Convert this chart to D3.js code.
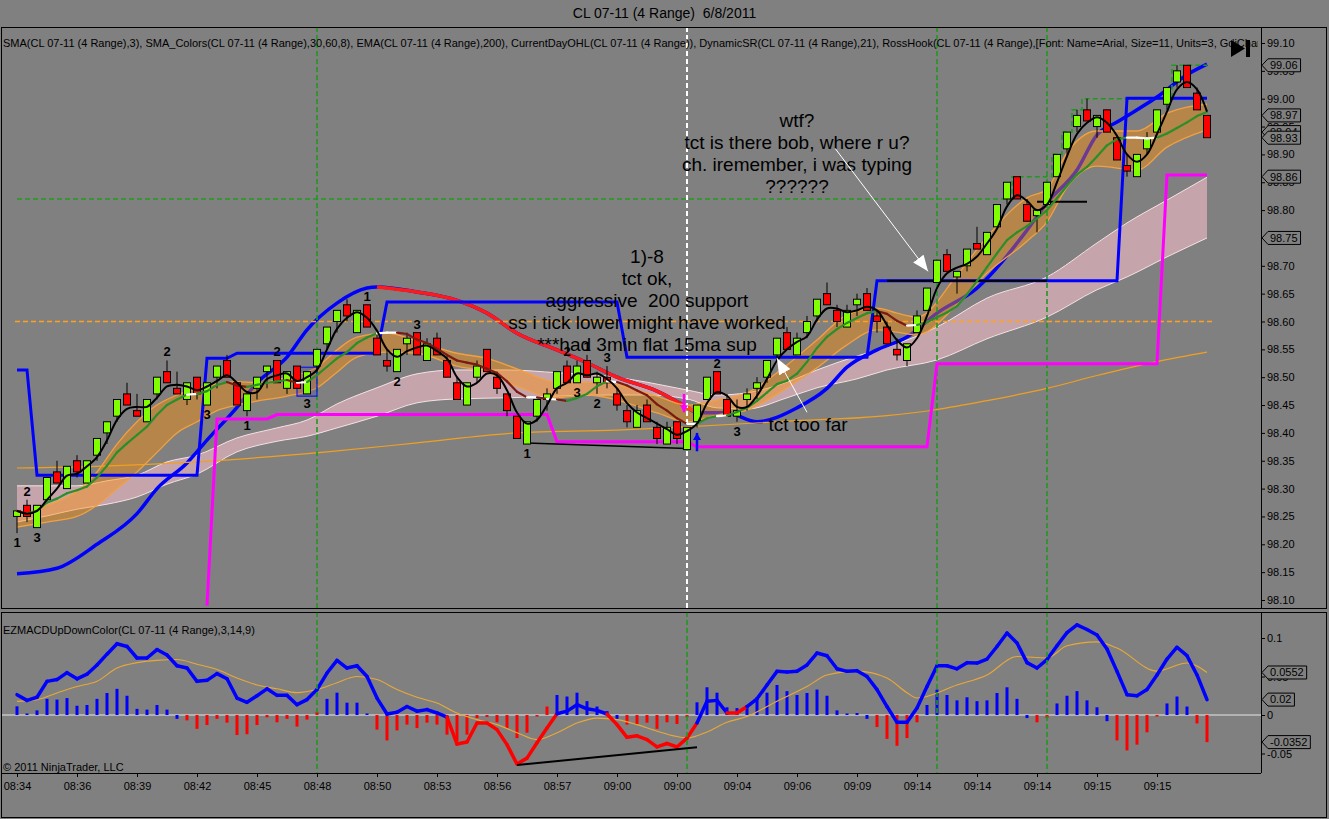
<!DOCTYPE html>
<html>
<head>
<meta charset="utf-8">
<title>CL 07-11 (4 Range) 6/8/2011</title>
<script src="https://cdn.jsdelivr.net/npm/d3@7"></script>
<style>
  html, body { margin: 0; padding: 0; background: #808080; }
  svg { display: block; font-family: "Liberation Sans", Arial, sans-serif; }
</style>
</head>
<body>
<div id="chart"></div>
<script>
// ---- 4 tick range bars ----
const opens = [
  98.25,98.27,98.23,98.28,98.33,98.30,98.35,98.31,98.36,98.40,
  98.43,98.47,98.44,98.42,98.47,98.51,98.48,98.46,98.50,98.45,
  98.50,98.53,98.49,98.44,98.48,98.51,98.53,98.48,98.52,98.47,
  98.52,98.56,98.60,98.63,98.58,98.63,98.57,98.53,98.51,98.56,
  98.58,98.53,98.57,98.53,98.49,98.45,98.50,98.55,98.50,98.47,
  98.43,98.38,98.43,98.46,98.48,98.52,98.49,98.53,98.49,98.50,
  98.47,98.44,98.41,98.45,98.41,98.38,98.42,98.37,98.42,98.46,
  98.51,98.46,98.43,98.46,98.48,98.50,98.54,98.58,98.54,98.58,
  98.61,98.65,98.62,98.59,98.63,98.65,98.61,98.59,98.55,98.53,
  98.58,98.62,98.67,98.72,98.68,98.70,98.74,98.72,98.77,98.82,
  98.86,98.81,98.79,98.81,98.86,98.91,98.95,98.98,98.95,98.98,
  98.93,98.88,98.86,98.91,98.94,98.99,99.03,99.06,99.01,98.97];
const highs = [
  98.26,98.28,98.27,98.32,98.35,98.34,98.36,98.35,98.39,98.42,
  98.46,98.49,98.47,98.46,98.50,98.53,98.51,98.49,98.50,98.49,
  98.52,98.54,98.49,98.47,98.50,98.52,98.53,98.51,98.52,98.51,
  98.55,98.59,98.62,98.64,98.62,98.63,98.58,98.55,98.55,98.58,
  98.58,98.57,98.58,98.54,98.50,98.49,98.53,98.55,98.51,98.47,
  98.43,98.42,98.46,98.48,98.51,98.53,98.53,98.54,98.51,98.52,
  98.48,98.45,98.45,98.46,98.42,98.42,98.42,98.41,98.45,98.50,
  98.51,98.47,98.46,98.48,98.50,98.53,98.57,98.59,98.58,98.61,
  98.64,98.67,98.63,98.63,98.65,98.66,98.62,98.60,98.57,98.56,
  98.62,98.66,98.71,98.73,98.69,98.73,98.77,98.76,98.81,98.85,
  98.86,98.82,98.80,98.85,98.90,98.94,98.98,99.00,98.97,98.98,
  98.93,98.90,98.90,98.94,98.98,99.02,99.06,99.06,99.02,98.97];
const lows = [
  98.22,98.24,98.23,98.28,98.31,98.30,98.32,98.31,98.35,98.38,
  98.42,98.45,98.43,98.42,98.46,98.49,98.47,98.45,98.46,98.45,
  98.48,98.50,98.45,98.43,98.46,98.48,98.49,98.47,98.48,98.47,
  98.51,98.55,98.58,98.60,98.58,98.59,98.54,98.51,98.51,98.54,
  98.54,98.53,98.54,98.50,98.46,98.45,98.49,98.51,98.47,98.43,
  98.39,98.38,98.42,98.44,98.47,98.49,98.49,98.50,98.47,98.48,
  98.44,98.41,98.41,98.42,98.38,98.38,98.38,98.37,98.41,98.46,
  98.47,98.43,98.42,98.44,98.46,98.49,98.53,98.55,98.54,98.57,
  98.60,98.63,98.59,98.59,98.61,98.62,98.58,98.56,98.53,98.52,
  98.58,98.62,98.67,98.69,98.65,98.69,98.73,98.72,98.77,98.81,
  98.82,98.78,98.76,98.81,98.86,98.90,98.94,98.96,98.93,98.94,
  98.89,98.86,98.86,98.90,98.94,98.98,99.02,99.02,98.98,98.93];
const closes = [
  98.26,98.25,98.27,98.32,98.31,98.34,98.33,98.35,98.39,98.42,
  98.46,98.45,98.43,98.46,98.50,98.49,98.47,98.49,98.47,98.49,
  98.52,98.50,98.45,98.47,98.50,98.52,98.49,98.51,98.48,98.51,
  98.55,98.59,98.62,98.61,98.62,98.59,98.54,98.52,98.55,98.57,
  98.54,98.56,98.54,98.50,98.46,98.49,98.52,98.51,98.48,98.44,
  98.39,98.42,98.46,98.47,98.51,98.49,98.52,98.50,98.50,98.49,
  98.45,98.42,98.44,98.42,98.39,98.41,98.39,98.41,98.45,98.50,
  98.47,98.43,98.44,98.47,98.49,98.53,98.57,98.55,98.57,98.60,
  98.64,98.63,98.60,98.62,98.64,98.62,98.60,98.56,98.54,98.56,
  98.61,98.66,98.71,98.69,98.69,98.73,98.73,98.76,98.81,98.85,
  98.82,98.78,98.80,98.85,98.90,98.94,98.97,98.96,98.97,98.94,
  98.89,98.87,98.90,98.93,98.98,99.02,99.05,99.02,98.98,98.93];

// x axis
const timeBars = [1,7,13,19,25,31,37,43,49,55,61,67,73,79,85,91,97,103,109,115];
const timeLabels = ["08:34","08:36","08:39","08:42","08:45","08:48","08:50","08:53","08:56","08:57",
                    "09:00","09:00","09:04","09:06","09:09","09:14","09:14","09:14","09:15","09:15"];

// indicator lines, [bar, value] or [bar, upper, lower]
const slowLine = [[1,98.147],[5,98.157],[9,98.20],[13,98.255],[15,98.30],[18,98.346],[20,98.387],[23,98.446],
  [25,98.49],[28,98.536],[30,98.585],[33,98.633],[36,98.66],[37,98.662],[41,98.653],[45,98.638],[48,98.615],
  [51,98.579],[55,98.549],[58,98.526],[61,98.50],[65,98.475],[68,98.446],[69,98.436],[72,98.436],[75,98.42],
  [79,98.445],[82,98.48],[84,98.518],[87,98.549],[90,98.572],[93,98.615],[97,98.66],[102,98.764],[104,98.813],
  [107,98.872],[109,98.935],[111,98.958],[115,99.003],[118,99.043],[120,99.062]];
const slowFalling = [37, 69];
const orangeBand = [[1,98.253,98.231],[4,98.27,98.24],[7,98.295,98.25],[9,98.33,98.27],[11,98.38,98.30],
  [13,98.42,98.33],[15,98.45,98.365],[17,98.468,98.40],[19,98.48,98.42],[21,98.488,98.44],[23,98.492,98.45],
  [25,98.49,98.457],[28,98.50,98.466],[31,98.518,98.481],[33,98.549,98.509],[35,98.572,98.536],[38,98.579,98.545],
  [41,98.565,98.543],[45,98.543,98.52],[48,98.534,98.509],[51,98.515,98.484],[55,98.491,98.463],[58,98.491,98.468],
  [61,98.486,98.459],[65,98.466,98.436],[68,98.45,98.42],[71,98.459,98.432],[74,98.472,98.441],[78,98.522,98.481],
  [81,98.567,98.517],[84,98.612,98.558],[87,98.624,98.585],[89,98.615,98.581],[91,98.608,98.576],[95,98.683,98.63],
  [98,98.752,98.687],[102,98.822,98.744],[104,98.838,98.779],[106,98.903,98.841],[109,98.942,98.879],
  [113,98.942,98.872],[116,98.974,98.913],[120,98.99,98.944]];
const pinkBand = [[1,98.305,98.24],[4,98.305,98.251],[7,98.305,98.263],[10,98.314,98.272],[13,98.324,98.285],
  [16,98.348,98.308],[19,98.36,98.326],[23,98.391,98.366],[27,98.409,98.385],[30,98.423,98.394],[33,98.452,98.409],
  [37,98.481,98.43],[41,98.506,98.454],[45,98.513,98.461],[50,98.513,98.463],[55,98.508,98.466],[60,98.502,98.468],
  [64,98.491,98.468],[68,98.477,98.461],[71,98.468,98.445],[74,98.472,98.443],[78,98.491,98.463],[81,98.513,98.481],
  [85,98.538,98.497],[88,98.554,98.513],[93,98.59,98.531],[98,98.642,98.569],[104,98.68,98.608],[109,98.741,98.657],
  [112,98.777,98.68],[116,98.818,98.716],[120,98.859,98.75]];
const ema200 = [[1,98.337],[9,98.34],[19,98.348],[32,98.366],[41,98.382],[51,98.40],[61,98.405],[67,98.41],
  [78,98.421],[88,98.431],[93,98.442],[98,98.458],[104,98.48],[109,98.503],[115,98.528],[120,98.545]];

// DynamicSR steps and current day OHL
const resistance = [[1,98.513],[2,98.513],[3,98.324],[19,98.324],[20,98.534],[22,98.534],[23,98.543],[37,98.543],
  [38,98.635],[61,98.635],[62,98.536],[86,98.536],[87,98.673],[111,98.673],[112,99.001],[120,99.001]];
const support = [[20,98.09],[21,98.425],[26,98.425],[27,98.433],[54,98.433],[55,98.384],[68,98.384],[69,98.375],
  [92,98.375],[93,98.524],[115,98.524],[116,98.863],[120,98.863]];
const dayHigh = [[1,98.82],[100,98.82],[101,98.86],[104,98.86],[105,98.90],[106,98.94],[107,98.98],[108,99.00],
  [116,99.00],[117,99.06],[120,99.06]];
const dayOpen = 98.60;

// RossHook marks and hand drawn lines
const hookLabels = [[1,"1","b"],[2,"2","a"],[3,"3","b"],[16,"2","a"],[20,"3","b"],[24,"1","b"],[27,"2","a"],
  [30,"3","b"],[36,"1","a"],[39,"2","b"],[41,"3","a"],[52,"1","b"],[56,"2","a"],[57,"3","b"],[58,"1","a"],
  [59,"2","b"],[60,"3","a"],[71,"2","a"],[73,"3","b"]];
const hookBox = [29, 31, 98.518, 98.466];
const hookLines = [[[88,98.673],[104,98.673]], [[103,98.815],[108,98.815]]];
const trendMain = [[52,98.382],[68,98.372]];
const sessionBars = [31, 93, 104];
const breakBar = 68;
const entryArrows = [[67.7, 98.47, 98.437, "#ff00ff"], [69, 98.367, 98.40, "#0000ff"]];

const noteA = ["1)-8", "tct ok,", "aggressive  200 support", "ss i tick lower might have worked", "***had 3min flat 15ma sup"];
const noteB = ["wtf?", "tct is there bob, where r u?", "ch. iremember, i was typing", "??????"];
const noteC = ["tct too far"];
const noteAt = [[64, 98.705], [79, 98.949], [80.1, 98.403]];
const arrows = [[[82.8,98.911],[92.1,98.69]], [[80,98.437],[77,98.534]]];

const priceTags = [99.06, 98.97, 98.94, 98.93, 98.86, 98.75];

// ---- EZMACD panel ----
const macdLine = [
  0.0264,0.019,0.023,0.0437,0.046,0.055,0.047,0.053,0.065,0.079,
  0.0926,0.089,0.074,0.074,0.085,0.078,0.064,0.061,0.0437,0.045,
  0.0537,0.047,0.022,0.0165,0.025,0.034,0.0255,0.0255,0.0134,0.020,
  0.033,0.0545,0.071,0.061,0.064,0.050,0.022,0.0013,0.0035,0.011,
  0.005,0.007,0.0026,-0.0026,-0.0377,-0.035,-0.0104,-0.0104,-0.019,-0.0385,
  -0.0636,-0.056,-0.036,-0.017,0.0017,0.005,0.0134,0.008,0.006,0.0013,
  -0.0125,-0.029,-0.027,-0.032,-0.0415,-0.037,-0.0415,-0.030,-0.0104,0.018,
  0.019,0.0026,0.0026,0.011,0.021,0.039,0.0567,0.056,0.0567,0.065,
  0.0805,0.077,0.060,0.0567,0.0576,0.050,0.033,0.011,-0.0095,-0.0095,
  0.009,0.037,0.064,0.064,0.060,0.068,0.0675,0.0727,0.089,0.1065,
  0.0935,0.068,0.061,0.072,0.090,0.107,0.117,0.111,0.104,0.0857,
  0.0567,0.0264,0.025,0.033,0.052,0.0727,0.088,0.077,0.052,0.020];
const macdHist = [
  0.0113,0.002,0.006,0.021,0.020,0.022,0.012,0.013,0.021,0.0286,
  0.034,0.025,0.008,0.007,0.013,0.007,-0.005,-0.007,-0.018,-0.013,
  -0.005,-0.010,-0.026,-0.025,-0.013,-0.003,-0.0095,-0.005,-0.015,-0.006,
  0.004,0.021,0.029,0.016,0.016,0.002,-0.019,-0.033,-0.020,-0.0125,
  -0.017,-0.010,-0.0125,-0.0255,-0.034,-0.0255,-0.004,-0.0026,-0.0095,-0.017,
  -0.030,-0.023,-0.002,0.011,0.026,0.024,0.029,0.018,0.011,0.005,
  -0.005,-0.0125,-0.0125,-0.010,-0.018,-0.0095,-0.0117,-0.003,0.0165,0.036,
  0.029,0.010,0.009,0.013,0.023,0.029,0.039,0.031,0.026,0.0286,
  0.033,0.025,0.006,0.002,0.0026,-0.005,-0.0156,-0.031,-0.040,-0.030,
  -0.0095,0.013,0.033,0.026,0.019,0.023,0.018,0.019,0.0286,0.036,
  0.021,-0.004,-0.0095,-0.004,0.015,0.025,0.031,0.019,0.010,-0.008,
  -0.033,-0.046,-0.0385,-0.0225,-0.002,0.015,0.024,0.011,-0.011,-0.0352];
// 1 = up colour, 0 = down colour
const histUp = "11111111111111111" + "00000000000000" + "11111" + "000000000000000000" + "1111111" +
  "0000000" + "111111111111111111" + "00000" + "11111111111" + "00" + "111111" + "00000" + "111" + "00";
const macdDown = [[44,55],[60,69],[72,74]];
const signal = [[1,0.0177],[3,0.020],[5,0.0286],[7,0.037],[9,0.0437],[11,0.061],[13,0.068],[15,0.071],[17,0.072],
  [19,0.066],[21,0.059],[23,0.048],[25,0.039],[27,0.034],[29,0.029],[31,0.033],[33,0.042],[35,0.050],[37,0.046],
  [39,0.033],[41,0.023],[43,0.0156],[45,0.0026],[47,-0.006],[49,-0.0125],[51,-0.023],[53,-0.032],[55,-0.023],
  [57,-0.0104],[59,-0.004],[61,-0.006],[63,-0.0125],[65,-0.021],[67,-0.028],[68,-0.030],[70,-0.022],[72,-0.0095],
  [74,-0.002],[77,0.018],[80,0.037],[82,0.052],[85,0.057],[88,0.048],[90,0.029],[91,0.022],[95,0.039],[98,0.052],
  [101,0.076],[104,0.074],[106,0.09],[109,0.095],[111,0.087],[115,0.057],[118,0.0675],[120,0.0552]];
const trendMacd = [[51,-0.065],[69,-0.042]];
const macdTags = [0.0552, 0.02, -0.0352];

// ---- layout ----
const W = 1329, H = 819, bg = "#808080";
const P = {l: 2, r: 1261, t: 27, b: 608, mt: 612, mb: 773};

const x = d3.scaleLinear().domain([1, 120]).range([17, 1207]);
const y = d3.scaleLinear().domain([98.10, 99.10]).range([600, 43]);
const ym = d3.scaleLinear().domain([-0.05, 0.10]).range([753.5, 638]);

const svg = d3.select("#chart").append("svg").attr("width", W).attr("height", H);
svg.append("rect").attr("width", W).attr("height", H).attr("fill", bg);

const defs = svg.append("defs");
defs.append("clipPath").attr("id", "clipMain").append("rect")
  .attr("x", P.l).attr("y", P.t).attr("width", P.r - P.l).attr("height", P.b - P.t);
defs.append("clipPath").attr("id", "clipMacd").append("rect")
  .attr("x", P.l).attr("y", P.mt).attr("width", P.r - P.l).attr("height", P.mb - P.mt);
defs.append("clipPath").attr("id", "clipLegend").append("rect")
  .attr("x", 0).attr("y", P.t).attr("width", 1258).attr("height", 30);
defs.append("marker").attr("id", "head").attr("markerUnits", "userSpaceOnUse")
  .attr("markerWidth", 17).attr("markerHeight", 13).attr("refX", 16).attr("refY", 6.5).attr("orient", "auto")
  .append("path").attr("d", "M0,0 L16,6.5 L0,13 Z").attr("fill", "#fff");
entryArrows.forEach((a, i) => defs.append("marker").attr("id", "tip" + i).attr("markerUnits", "userSpaceOnUse")
  .attr("markerWidth", 8).attr("markerHeight", 8).attr("refX", 7).attr("refY", 4).attr("orient", "auto")
  .append("path").attr("d", "M0,0 L7,4 L0,8 Z").attr("fill", a[3]));

// title
svg.append("text").attr("x", W / 2).attr("y", 18).attr("text-anchor", "middle").style("white-space", "pre")
  .attr("font-size", 14).attr("fill", "#000").text("CL 07-11 (4 Range)  6/8/2011");

const g = svg.append("g").attr("clip-path", "url(#clipMain)");

const area = d3.area().x(d => x(d[0])).y0(d => y(d[2])).y1(d => y(d[1])).curve(d3.curveMonotoneX);
const edge = k => d3.line().x(d => x(d[0])).y(d => y(d[k])).curve(d3.curveMonotoneX);
const lin = d3.line().x(d => x(d[0])).y(d => y(d[1]));

// pink SMA band
g.append("path").datum(pinkBand).attr("d", area).attr("fill", "#c6a4ac");
[1, 2].forEach(k => g.append("path").datum(pinkBand).attr("d", edge(k))
  .attr("fill", "none").attr("stroke", "#f4e2e4").attr("stroke-width", 1));

// slow trend line, blue rising / red falling
g.append("path").datum(slowLine).attr("d", edge(1))
  .attr("fill", "none").attr("stroke", "#0000ff").attr("stroke-width", 3.5);
g.append("path").datum(slowLine.filter(d => d[0] >= slowFalling[0] && d[0] <= slowFalling[1])).attr("d", edge(1))
  .attr("fill", "none").attr("stroke", "#ff1a1a").attr("stroke-width", 3.5);

// orange band sits over the slow line (that gives the purple look)
g.append("path").datum(orangeBand).attr("d", area).attr("fill", "rgba(255,140,0,0.42)");
[1, 2].forEach(k => g.append("path").datum(orangeBand).attr("d", edge(k))
  .attr("fill", "none").attr("stroke", "#f2a040").attr("stroke-width", 1.3));

// EMA 200
g.append("path").datum(ema200).attr("d", edge(1))
  .attr("fill", "none").attr("stroke", "#f0a020").attr("stroke-width", 1.2);

// day open / day high
g.append("line").attr("x1", 15).attr("x2", 1212).attr("y1", y(dayOpen)).attr("y2", y(dayOpen))
  .attr("stroke", "#ffa020").attr("stroke-width", 1.6).attr("stroke-dasharray", "5,3");
g.append("path").datum(dayHigh).attr("d", d3.line().x(d => x(d[0])).y(d => y(d[1])).curve(d3.curveStep))
  .attr("fill", "none").attr("stroke", "#1f9a1f").attr("stroke-width", 1.6).attr("stroke-dasharray", "5,3");

// vertical markers
g.selectAll(".sess").data(sessionBars).join("line")
  .attr("x1", d => x(d)).attr("x2", d => x(d)).attr("y1", P.t).attr("y2", P.b)
  .attr("stroke", "#1f9a1f").attr("stroke-width", 1.6).attr("stroke-dasharray", "5,3");
g.append("line").attr("x1", x(breakBar)).attr("x2", x(breakBar)).attr("y1", P.t).attr("y2", P.b)
  .attr("stroke", "#ffffff").attr("stroke-width", 2).attr("stroke-dasharray", "5,3");

// DynamicSR
g.append("path").datum(support).attr("d", lin)
  .attr("fill", "none").attr("stroke", "#ff00ff").attr("stroke-width", 3);
g.append("path").datum(resistance).attr("d", lin)
  .attr("fill", "none").attr("stroke", "#0000ff").attr("stroke-width", 3);

// RossHook lines and box
hookLines.forEach(l => g.append("path").datum(l).attr("d", lin)
  .attr("stroke", "#000").attr("stroke-width", 2));
g.append("path").datum(trendMain).attr("d", lin).attr("stroke", "#000").attr("stroke-width", 1.5);
g.append("rect").attr("x", x(hookBox[0])).attr("y", y(hookBox[2]))
  .attr("width", x(hookBox[1]) - x(hookBox[0])).attr("height", y(hookBox[3]) - y(hookBox[2]))
  .attr("fill", "rgba(0,0,255,0.12)").attr("stroke", "#0000ff").attr("stroke-width", 1);

// candles
const idx = d3.range(opens.length);
const candle = g.selectAll(".bar").data(idx).join("g");
candle.append("line")
  .attr("x1", i => x(i + 1)).attr("x2", i => x(i + 1))
  .attr("y1", i => y(highs[i])).attr("y2", i => y(lows[i]))
  .attr("stroke", "#000").attr("stroke-width", 1);
candle.append("rect")
  .attr("x", i => x(i + 1) - 3.5).attr("width", 7)
  .attr("y", i => y(Math.max(opens[i], closes[i])))
  .attr("height", i => Math.max(1.5, Math.abs(y(opens[i]) - y(closes[i]))))
  .attr("fill", i => closes[i] >= opens[i] ? "#80ff00" : "#ff0000")
  .attr("stroke", "#000").attr("stroke-width", 1);

// entry arrows at the break
entryArrows.forEach((a, i) => g.append("line")
  .attr("x1", x(a[0])).attr("x2", x(a[0])).attr("y1", y(a[1])).attr("y2", y(a[2]))
  .attr("stroke", a[3]).attr("stroke-width", 2.5).attr("marker-end", `url(#tip${i})`));

// SMA(8) coloured by slope, SMA(3) black
const sma = (arr, n) => arr.map((v, i) => d3.mean(arr.slice(Math.max(0, i - n + 1), i + 1)));
const sma8 = sma(closes, 8).map((v, i) => [i + 1, v]);
const sma3 = sma(closes, 3).map((v, i) => [i + 1, v]);
g.selectAll(".sma8").data(d3.pairs(sma8)).join("line")
  .attr("x1", d => x(d[0][0])).attr("y1", d => y(d[0][1]))
  .attr("x2", d => x(d[1][0])).attr("y2", d => y(d[1][1]))
  .attr("stroke", d => {
    const dv = d[1][1] - d[0][1];
    return dv > 0.002 ? "#2a8f2a" : dv < -0.002 ? "#7a1a12" : "#ffffff";
  })
  .attr("stroke-width", 2.2).attr("stroke-linecap", "round");
g.append("path").datum(sma3).attr("d", d3.line().x(d => x(d[0])).y(d => y(d[1])).curve(d3.curveCatmullRom))
  .attr("fill", "none").attr("stroke", "#000").attr("stroke-width", 2);

// hook numbers
g.selectAll(".hk").data(hookLabels).join("text")
  .attr("x", d => x(d[0])).attr("text-anchor", "middle")
  .attr("y", d => d[2] === "a" ? y(highs[d[0] - 1]) - 4 : y(lows[d[0] - 1]) + 14)
  .attr("font-size", 13).attr("font-weight", "bold").attr("fill", "#000").text(d => d[1]);

// notes
[noteA, noteB, noteC].forEach((lines, k) => {
  const t = svg.append("text").attr("x", x(noteAt[k][0])).attr("y", y(noteAt[k][1]))
    .attr("text-anchor", "middle").attr("font-size", 19).attr("fill", "#000").style("white-space", "pre");
  lines.forEach((s, j) => t.append("tspan").attr("x", x(noteAt[k][0])).attr("dy", j ? 22 : 0).text(s));
});
arrows.forEach(a => svg.append("path").datum(a).attr("d", lin)
  .attr("stroke", "#fff").attr("stroke-width", 1).attr("marker-end", "url(#head)"));

// legend + play icon
svg.append("text").attr("clip-path", "url(#clipLegend)").attr("x", 3).attr("y", 47)
  .attr("font-size", 11).attr("fill", "#000")
  .text("SMA(CL 07-11 (4 Range),3), SMA_Colors(CL 07-11 (4 Range),30,60,8), EMA(CL 07-11 (4 Range),200), CurrentDayOHL(CL 07-11 (4 Range)), DynamicSR(CL 07-11 (4 Range),21), RossHook(CL 07-11 (4 Range),[Font: Name=Arial, Size=11, Units=3, GdiCharSet=1, GdiVerticalFont=False])");
svg.append("path").attr("d", "M1231,40 L1245,48.5 L1231,57 Z").attr("fill", "#000");
svg.append("rect").attr("x", 1246).attr("y", 40).attr("width", 4).attr("height", 17).attr("fill", "#000");

// price axis
const ya = svg.append("g").attr("transform", `translate(${P.r},0)`)
  .call(d3.axisRight(y).tickValues(y.ticks(20)).tickSize(4).tickSizeOuter(0).tickFormat(d3.format(".2f")));
ya.select(".domain").remove();
ya.selectAll("text").attr("font-size", 11).attr("font-family", "Liberation Sans, Arial, sans-serif").attr("fill", "#000").attr("x", 6);
ya.selectAll("line").attr("stroke", "#000");

function tag(yy, label) {
  const t = svg.append("g");
  const txt = t.append("text").attr("x", 1270).attr("y", yy).attr("dy", "0.35em")
    .attr("font-size", 11).attr("fill", "#000").text(label);
  const w = txt.node().getComputedTextLength() + 5;
  t.insert("path", "text")
    .attr("d", `M${P.r + 1},${yy} L1268,${yy - 6.5} H${1268 + w} V${yy + 6.5} H1268 Z`)
    .attr("fill", bg).attr("stroke", "#000").attr("stroke-width", 1);
}
priceTags.forEach(v => tag(y(v), v.toFixed(2)));

// ---- MACD panel ----
const m = svg.append("g").attr("clip-path", "url(#clipMacd)");
m.append("line").attr("x1", P.l).attr("x2", P.r).attr("y1", ym(0)).attr("y2", ym(0))
  .attr("stroke", "#e6e6e6").attr("stroke-width", 1);
m.selectAll(".hist").data(macdHist).join("rect")
  .attr("x", (v, i) => x(i + 1) - 1.5).attr("width", 3)
  .attr("y", v => ym(Math.max(0, v))).attr("height", v => Math.abs(ym(v) - ym(0)))
  .attr("fill", (v, i) => histUp[i] === "1" ? "#0000ff" : "#ff0000");
m.append("path").datum(signal).attr("d", d3.line().x(d => x(d[0])).y(d => ym(d[1])).curve(d3.curveMonotoneX))
  .attr("fill", "none").attr("stroke", "#e8a838").attr("stroke-width", 1.1);
const isDown = b => macdDown.some(s => b >= s[0] && b <= s[1]);
m.selectAll(".macd").data(d3.pairs(macdLine.map((v, i) => [i + 1, v]))).join("line")
  .attr("x1", d => x(d[0][0])).attr("y1", d => ym(d[0][1]))
  .attr("x2", d => x(d[1][0])).attr("y2", d => ym(d[1][1]))
  .attr("stroke", d => isDown(d[0][0]) && isDown(d[1][0]) ? "#ff0000" : "#0000ff")
  .attr("stroke-width", 3.5).attr("stroke-linecap", "round");
m.selectAll(".sessm").data(sessionBars.concat([breakBar])).join("line")
  .attr("x1", d => x(d)).attr("x2", d => x(d)).attr("y1", P.mt).attr("y2", P.mb)
  .attr("stroke", "#1f9a1f").attr("stroke-width", 1.6).attr("stroke-dasharray", "5,3");
m.append("path").datum(trendMacd).attr("d", d3.line().x(d => x(d[0])).y(d => ym(d[1])))
  .attr("stroke", "#000").attr("stroke-width", 2);

svg.append("text").attr("x", 3).attr("y", 634).attr("font-size", 11).attr("fill", "#000")
  .text("EZMACDUpDownColor(CL 07-11 (4 Range),3,14,9)");
svg.append("text").attr("x", 3).attr("y", 771).attr("font-size", 11).attr("fill", "#000")
  .text("\u00a9 2011 NinjaTrader, LLC");

const ma = svg.append("g").attr("transform", `translate(${P.r},0)`)
  .call(d3.axisRight(ym).tickValues([-0.05, 0, 0.05, 0.1]).tickSize(4).tickSizeOuter(0).tickFormat(d => String(d)));
ma.select(".domain").remove();
ma.selectAll("text").attr("font-size", 11).attr("font-family", "Liberation Sans, Arial, sans-serif").attr("fill", "#000").attr("x", 6);
ma.selectAll("line").attr("stroke", "#000");
macdTags.forEach(v => tag(ym(v), String(v)));

// time axis
const xa = svg.append("g").attr("transform", `translate(0,${P.mb})`)
  .call(d3.axisBottom(x).tickValues(timeBars).tickSize(4).tickSizeOuter(0).tickFormat((d, i) => timeLabels[i]));
xa.select(".domain").remove();
xa.selectAll("text").attr("font-size", 11).attr("font-family", "Liberation Sans, Arial, sans-serif").attr("fill", "#000").attr("y", 9);
xa.selectAll("line").attr("stroke", "#000");

// frames
const frame = svg.append("g").attr("fill", "none").attr("stroke", "#000").attr("stroke-width", 1);
frame.append("rect").attr("x", 1.5).attr("y", P.t + 0.5).attr("width", 1325).attr("height", P.b - P.t);
frame.append("rect").attr("x", 1.5).attr("y", P.mt + 0.5).attr("width", 1325).attr("height", 817 - P.mt);
frame.append("line").attr("x1", 1).attr("x2", P.r).attr("y1", P.mb + 0.5).attr("y2", P.mb + 0.5);
frame.append("line").attr("x1", P.r + 0.5).attr("x2", P.r + 0.5).attr("y1", P.t).attr("y2", P.b);
frame.append("line").attr("x1", P.r + 0.5).attr("x2", P.r + 0.5).attr("y1", P.mt).attr("y2", P.mb);
</script>
</body>
</html>
